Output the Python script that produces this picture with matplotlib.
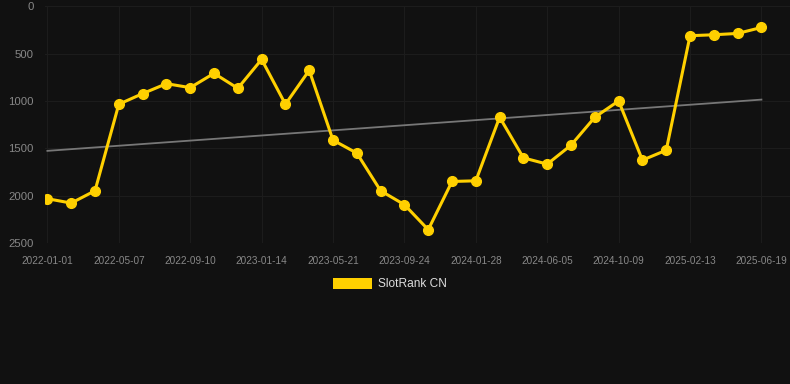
import numpy as np
import matplotlib
matplotlib.use('Agg')
import matplotlib.pyplot as plt
from matplotlib.patches import Patch

# rank values (lower is better), one every ~6 weeks
ranks = [2032, 2078, 1948, 1035, 923, 818, 860, 709, 867, 562,
         1035, 677, 1414, 1551, 1948, 2095, 2359, 1850, 1843, 1172,
         1601, 1667, 1467, 1172, 1000, 1625, 1520, 312, 302, 288, 225]
tick_labels = ['2022-01-01', '2022-05-07', '2022-09-10', '2023-01-14', '2023-05-21',
               '2023-09-24', '2024-01-28', '2024-06-05', '2024-10-09', '2025-02-13',
               '2025-06-19']
series_name = 'SlotRank CN'

bg = '#111111'
gold = '#FFD000'
plt.rcParams['font.family'] = ['Liberation Sans', 'DejaVu Sans']

x = np.arange(len(ranks))
y = np.array(ranks)
slope, intercept = np.polyfit(x, y, 1)

fig = plt.figure(figsize=(7.9, 3.84), dpi=100, facecolor=bg)
ax = fig.add_axes([0.057, 0.367, 0.943, 0.617], facecolor=bg)

ax.plot(x, slope * x + intercept, color='#777777', lw=1.3, zorder=2)
ax.plot(x, y, color=gold, lw=2.2, marker='o', ms=7, zorder=3)

ax.set_xlim(-0.1, 31.2)
ax.set_ylim(2500, 0)
ax.set_yticks([0, 500, 1000, 1500, 2000, 2500])
ax.set_xticks(x[::3])
ax.set_xticklabels(tick_labels)

ax.grid(True, color='#1c1c1c', lw=0.8)
for s in ax.spines.values():
    s.set_visible(False)
ax.tick_params(axis='x', length=0, pad=9, labelsize=7.2, labelcolor='#888888')
ax.tick_params(axis='y', length=0, pad=8, labelsize=8.2, labelcolor='#888888')

fig.legend(handles=[Patch(facecolor=gold, label=series_name)],
           loc='center', bbox_to_anchor=(0.494, 0.26), frameon=False,
           fontsize=8.6, labelcolor='#dddddd', handlelength=3.25, handleheight=1.0,
           handletextpad=0.5)

fig.savefig('out.png', dpi=100, facecolor=bg)
